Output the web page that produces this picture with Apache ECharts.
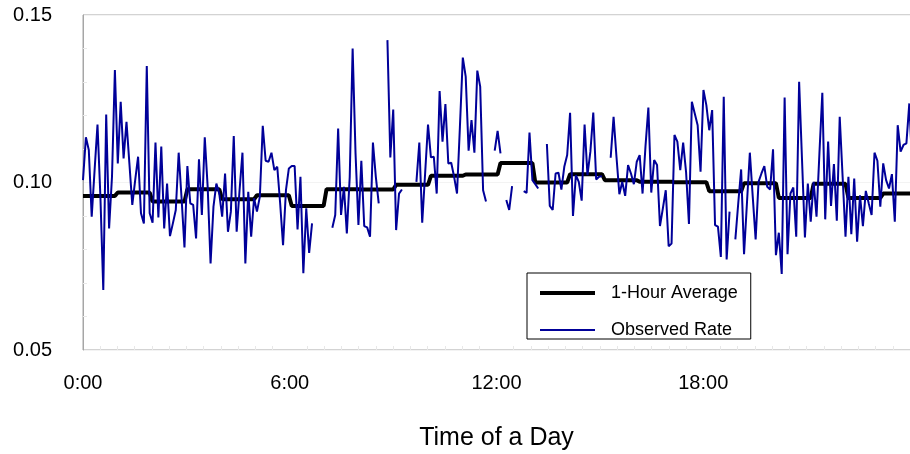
<!DOCTYPE html>
<html>
<head>
<meta charset="utf-8">
<script src="https://cdn.jsdelivr.net/npm/echarts@6/dist/echarts.min.js"></script>
<style>
  html, body { margin: 0; padding: 0; background: #fff; }
  #main { width: 910px; height: 454px; }
</style>
</head>
<body>
<div id="main"></div>
<script>
// tick labels on the time axis, one every 6 hours
var timeLabels = ['0:00', '6:00', '12:00', '18:00']

// 1-hour average, one value per hour
var hourAverage = [
  0.0960, 0.0970, 0.0943, 0.0980, 0.0950, 0.0962, 0.0930, 0.0980, 0.0979, 0.0993, 0.1020, 0.1024,
  0.1058, 0.1000, 0.1025, 0.1007, 0.1002, 0.1001, 0.0974, 0.0998, 0.0954, 0.0996, 0.0954, 0.0967
]

// observed rate every 5 minutes (12 per row = 1 hour), null = no data
var observedRate = [
  0.1007, 0.1135, 0.1097, 0.0898, 0.1037, 0.1173, 0.0958, 0.0679, 0.1203, 0.0863, 0.1017, 0.1336,
  0.1057, 0.1241, 0.1072, 0.1181, 0.1057, 0.0933, 0.1007, 0.1077, 0.0908, 0.0878, 0.1348, 0.0908,
  0.0880, 0.1119, 0.0896, 0.1107, 0.0863, 0.0997, 0.0840, 0.0878, 0.0918, 0.1089, 0.0953, 0.0806,
  0.1049, 0.0938, 0.0933, 0.0833, 0.1069, 0.0903, 0.1135, 0.0987, 0.0758, 0.0928, 0.0997, 0.0967,
  0.0898, 0.1027, 0.0853, 0.0913, 0.1139, 0.0853, 0.0977, 0.1089, 0.0758, 0.0972, 0.0838, 0.0953,
  0.0913, 0.0958, 0.1169, 0.1065, 0.1062, 0.1089, 0.1037, 0.1047, 0.0938, 0.0813, 0.0977, 0.1042,
  0.1049, 0.1049, 0.0860, 0.1017, 0.0729, 0.0923, 0.0790, 0.0878, null, null, null, null,
  null, null, 0.0865, 0.0903, 0.1161, 0.0903, 0.0987, 0.0848, 0.1017, 0.1400, 0.1087, 0.0873,
  0.1065, 0.0870, 0.0866, 0.0838, 0.1119, 0.1017, 0.0938, null, null, 0.1425, 0.1075, 0.1218,
  0.0858, 0.0967, 0.0979, null, null, null, null, 0.1002, 0.1119, 0.0880, 0.1027, 0.1173,
  0.1075, 0.1077, 0.0967, 0.1273, 0.1122, 0.1234, 0.1057, 0.1059, 0.1017, 0.0967, 0.1166, 0.1373,
  0.1316, 0.1095, 0.1186, 0.1089, 0.1334, 0.1286, 0.0977, 0.0943, null, null, 0.1095, 0.1154,
  0.1087, null, 0.0948, 0.0918, 0.0989, null, null, null, 0.0974, 0.0969, 0.1149, 0.1007,
  0.0995, 0.0982, null, null, 0.1115, 0.0930, 0.0918, 0.1027, 0.1029, 0.0979, 0.1047, 0.1082,
  0.1208, 0.0900, 0.1022, 0.1002, 0.0946, 0.1173, 0.1022, 0.1092, 0.1209, 0.1009, 0.1017, 0.1019,
  null, null, 0.1074, 0.1196, 0.1077, 0.0965, 0.1002, 0.0960, 0.1052, 0.1027, 0.0995, 0.1062,
  0.1082, 0.0967, 0.1107, 0.1224, 0.0970, 0.1067, 0.1052, 0.0870, 0.0923, 0.0977, 0.0810, 0.0818,
  0.1142, 0.1122, 0.1037, 0.1119, 0.1032, 0.0876, 0.1241, 0.1206, 0.1171, 0.1032, 0.1276, 0.1231,
  0.1156, 0.1216, 0.0873, 0.0868, 0.0778, 0.1256, 0.0770, 0.0913, null, 0.0830, 0.0938, 0.1039,
  0.0786, 0.0938, 0.1089, 0.0958, 0.0830, 0.1002, 0.1027, 0.1049, 0.0987, 0.0979, 0.1099, 0.0783,
  0.0850, 0.0727, 0.1254, 0.0786, 0.0967, 0.0985, 0.0838, 0.1301, 0.1067, 0.0836, 0.0997, 0.0883,
  0.1002, 0.0898, 0.1087, 0.1268, 0.0890, 0.1122, 0.0930, 0.1055, 0.0886, 0.1196, 0.1017, 0.0838,
  0.1017, 0.0846, 0.1012, 0.0823, 0.0962, 0.0870, 0.0975, 0.0938, 0.0903, 0.1089, 0.1065, 0.0928,
  0.1057, 0.1007, 0.0982, 0.1025, 0.0883, 0.1171, 0.1092, 0.1112, 0.1117, 0.1236, 0.1050, 0.1000
]

var chart = echarts.init(document.getElementById('main'))

// x in minutes since midnight, 5 minute steps
var obsData = observedRate.map(function (v, i) {
  return [i * 5, v === null ? '-' : v]
})
var avgData = observedRate.map(function (v, i) {
  return [i * 5, hourAverage[Math.floor(i / 12)]]
})

var option = {
  animation: false,
  textStyle: { fontFamily: 'Liberation Sans, Arial, sans-serif' },
  grid: [
    // data area, runs past the right edge like the original crop
    {
      left: 83, top: 15, width: 835, height: 335,
      outerBoundsMode: 'none',
      show: true, borderColor: '#a6a6a6', borderWidth: 1
    },
    // time labels (spread over the visible width)
    {
      left: 83, top: 15, width: 827, height: 335,
      outerBoundsMode: 'none'
    }
  ],
  legend: {
    orient: 'vertical',
    left: 527,
    top: 273,
    data: [
      { name: '1-Hour Average', itemStyle: { opacity: 0 }, lineStyle: { color: '#000', width: 4 } },
      { name: 'Observed Rate', itemStyle: { opacity: 0 }, lineStyle: { color: '#000099', width: 2 } }
    ],
    backgroundColor: '#fff',
    borderColor: '#000',
    borderWidth: 1,
    padding: [11, 13, 0, 11],
    itemGap: 19,
    itemWidth: 55,
    itemHeight: 14,
    textStyle: { fontSize: 18, color: '#000', padding: [0, 0, 0, 11] }
  },
  xAxis: [
    {
      gridIndex: 0,
      type: 'value',
      min: 0,
      max: 1440,
      axisLine: { show: false },
      axisTick: { show: false },
      axisLabel: { show: false },
      splitLine: { show: false }
    },
    {
      gridIndex: 1,
      type: 'value',
      min: 0,
      max: 1440,
      interval: 360,
      name: 'Time of a Day',
      nameLocation: 'middle',
      nameGap: 76,
      nameTextStyle: { fontSize: 25, color: '#000' },
      axisLine: { show: false },
      axisTick: { show: false, inside: true },
      minorTick: { show: true, splitNumber: 12, length: 4, lineStyle: { color: '#e8e8e8' } },
      axisLabel: {
        color: '#000',
        fontSize: 20,
        margin: 23,
        formatter: function (v) {
          return timeLabels[v / 360] || ''
        }
      },
      splitLine: { show: false }
    }
  ],
  yAxis: [
    {
      gridIndex: 0,
      type: 'value',
      min: 0.05,
      max: 0.15,
      interval: 0.05,
      axisLine: { show: true, lineStyle: { color: '#a6a6a6' } },
      axisTick: { show: false, inside: true },
      minorTick: { show: true, splitNumber: 5, length: 4, lineStyle: { color: '#e8e8e8' } },
      axisLabel: {
        color: '#000',
        fontSize: 20,
        margin: 31,
        formatter: function (v) {
          return v.toFixed(2)
        }
      },
      splitLine: { show: true, lineStyle: { color: '#f3f3f3' } }
    },
    {
      gridIndex: 1,
      type: 'value',
      min: 0.05,
      max: 0.15,
      show: false
    }
  ],
  series: [
    {
      name: '1-Hour Average',
      type: 'line',
      xAxisIndex: 0,
      yAxisIndex: 0,
      data: avgData,
      symbol: 'none',
      itemStyle: { color: '#000' },
      lineStyle: { color: '#000', width: 4 }
    },
    {
      name: 'Observed Rate',
      type: 'line',
      xAxisIndex: 0,
      yAxisIndex: 0,
      data: obsData,
      symbol: 'none',
      itemStyle: { color: '#000099' },
      lineStyle: { color: '#000099', width: 2 }
    }
  ]
}

chart.setOption(option)
</script>
</body>
</html>
